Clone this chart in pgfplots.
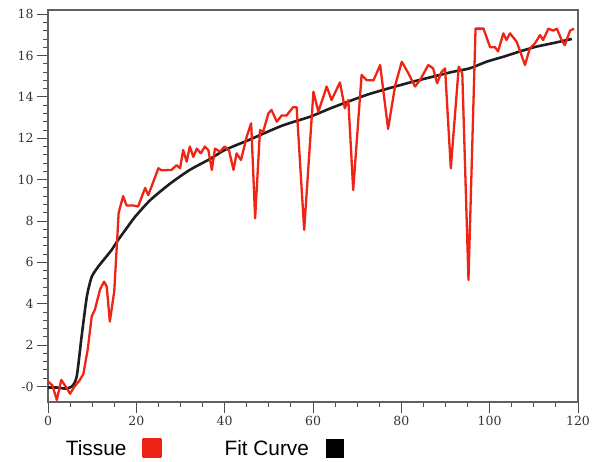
\documentclass[border=0pt]{standalone}
\usepackage{fontspec}
\usepackage{pgfplots}
\pgfplotsset{compat=1.18}
\setmainfont{DejaVu Serif}
\newfontfamily\legendfont{Liberation Sans}
\definecolor{tissuered}{RGB}{238,36,20}
\definecolor{fitblack}{RGB}{30,30,30}

\begin{document}
\begin{tikzpicture}
\useasboundingbox (-48pt,-59pt) rectangle (553pt,402pt);
\begin{axis}[
    scale only axis,
    width=530pt, height=392pt,
    xmin=0, xmax=120, ymin=-0.75, ymax=18.2,
    xtick={0,20,...,120},
    ytick={0,2,...,18},
    yticklabels={-0,2,4,6,8,10,12,14,16,18},
    minor x tick num=3,
    minor y tick num=4,
    tick align=outside,
    xtick pos=bottom, ytick pos=left,
    major tick length=11pt,
    minor tick length=5pt,
    tick style={gray!60!black, line width=0.9pt},
    axis line style={gray!75!black, line width=1.1pt},
    /pgf/number format/assume math mode=true,
    ticklabel style={font=\fontsize{12.5}{13}\selectfont, text=black!80},
    legend columns=2,
    legend plot pos=right,
    legend style={draw=none, fill=none, at={(0.024,-0.118)}, anchor=west,
        font=\legendfont\fontsize{20.8}{21}\selectfont,
        /tikz/every even column/.append style={column sep=61pt}},
    legend image code/.code={\path[draw=none, fill=none] (0pt,-9pt) rectangle (15pt,9pt);
        \fill[#1] (15pt,-9pt) rectangle (32pt,9pt);},
]
\addplot[color=fitblack, line width=2.6pt, smooth, tension=0.4, forget plot] coordinates {
(0,-0.05) (2,-0.05) (4,-0.1) (5.4,0) (6.5,0.48) (7.6,2.4) (8.8,4.35) (9.9,5.3)
(11.4,5.8) (12.9,6.2) (14.4,6.6) (15.9,7.09) (17.8,7.65) (19.7,8.2) (23.1,9.0)
(27.6,9.8) (32.1,10.47) (36.7,11.0) (40,11.43) (45.3,11.9) (52.9,12.6)
(59.3,13.04) (64.6,13.5) (72.2,14.1) (78.6,14.5) (83.8,14.8) (91.4,15.2)
(95.5,15.38) (99.3,15.7) (103.1,15.94) (106.9,16.2) (110.6,16.43) (114.4,16.6)
(118.6,16.8)
};
\addplot[color=tissuered, line width=2.3pt, line join=round] coordinates {
(0,0.25) (1,0.05) (2,-0.65) (3,0.32) (4,0.0) (5,-0.35) (6,0.0) (7,0.25) (8,0.6)
(9,1.8) (9.9,3.4) (10.6,3.7) (11.8,4.7) (12.7,5.07) (13.3,4.83) (14,3.14)
(15,4.6) (16,8.4) (17,9.2) (17.8,8.75) (19.3,8.75) (20.4,8.7) (22,9.6)
(22.7,9.25) (25,10.55) (25.7,10.45) (28,10.47) (29.1,10.7) (29.9,10.55)
(30.6,11.43) (31.4,10.87) (32.1,11.6) (32.9,11.1) (33.7,11.5) (34.6,11.27)
(35.5,11.6) (36.3,11.43) (37.1,10.47) (37.8,11.5) (38.9,11.35) (40,11.6)
(41,11.4) (42,10.47) (42.7,11.27) (43.7,10.95) (45,12.08) (46,12.72)
(46.9,8.13) (48,12.4) (48.7,12.3) (49.9,13.2) (50.6,13.37) (51.8,12.8)
(52.9,13.1) (54,13.1) (55.5,13.5) (56.3,13.5) (58,7.57) (60.1,14.25)
(61.2,13.28) (63.1,14.5) (64.2,13.85) (66.1,14.7) (67.2,13.45) (68,13.85)
(69.1,9.5) (71,15.06) (72.2,14.8) (73.7,14.8) (75.2,15.54) (77,12.45)
(78.6,14.55) (80.1,15.7) (81.6,15.14) (83.1,14.5) (84.2,14.8) (86.1,15.54)
(87.2,15.38) (88.1,14.66) (89.1,15.2) (89.9,15.38) (91.2,10.55) (93,15.46)
(93.8,15.14) (95.2,5.15) (96.8,17.3) (98.6,17.3) (100.1,16.4) (101.2,16.4)
(101.9,16.2) (103.1,17.07) (103.8,16.75) (104.6,17.07) (106.1,16.67)
(106.9,16.2) (108,15.54) (109.1,16.35) (110.3,16.6) (111.4,16.99)
(112.1,16.75) (113.3,17.3) (114.4,17.2) (115.2,17.3) (116.3,16.75)
(117,16.5) (118.2,17.2) (119.1,17.3)
};
\addlegendentry{Tissue}
\addlegendimage{color=black}
\addlegendentry{Fit Curve}
\end{axis}
\end{tikzpicture}
\end{document}
